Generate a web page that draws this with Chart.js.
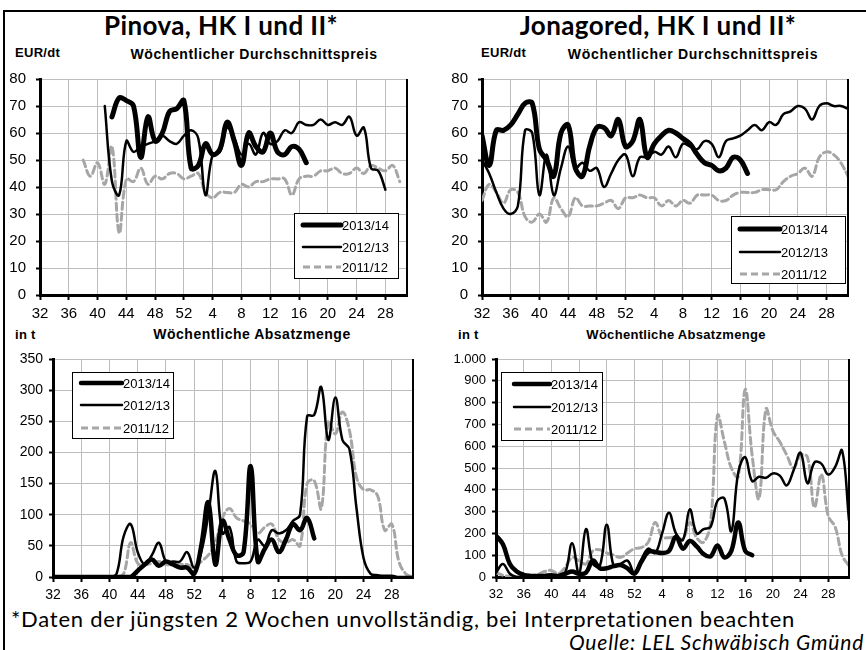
<!DOCTYPE html>
<html>
<head>
<meta charset="utf-8">
<script src="https://cdn.jsdelivr.net/npm/chart.js@4.4.1/dist/chart.umd.min.js"></script>
<style>
  body { margin: 0; width: 866px; height: 650px; overflow: hidden; background: #fff; position: relative;
         font-family: "Liberation Sans", Arial, sans-serif; color: #000; }
  canvas { position: absolute; left: 0; top: 0; }
  .frame { position: absolute; left: 3px; top: 10px; width: 900px; height: 700px; border: 2px solid #000; }
  .t { position: absolute; white-space: nowrap; line-height: 1; }
  .title { font-family: Lato, "Noto Sans", sans-serif; font-weight: bold; font-size: 26px; text-align: center; letter-spacing: 0.4px; }
  .unit, .sub { font-weight: bold; font-size: 13px; }
  .unit { letter-spacing: 0.3px; }
  .sub { text-align: center; }
  .foot { font-family: Lato, "Noto Sans", sans-serif; font-size: 22px; letter-spacing: 0.75px; }
</style>
</head>
<body>
<div class="frame"></div>

<div class="t title" style="left:0;width:442px;top:12px">Pinova, HK I und II*</div>
<div class="t title" style="left:437px;width:442px;top:12px">Jonagored, HK I und II*</div>
<div class="t unit" style="left:15px;top:46px">EUR/dt</div>
<div class="t unit" style="left:481px;top:46px">EUR/dt</div>
<div class="t sub" style="left:54px;width:400px;top:47px;font-size:14px;letter-spacing:0.6px">Wöchentlicher Durchschnittspreis</div>
<div class="t sub" style="left:493px;width:400px;top:47px;font-size:14px;letter-spacing:0.7px">Wöchentlicher Durchschnittspreis</div>
<div class="t unit" style="left:15px;top:328px">in t</div>
<div class="t unit" style="left:458px;top:328px">in t</div>
<div class="t sub" style="left:52px;width:400px;top:327px;font-size:14px;letter-spacing:0.5px">Wöchentliche Absatzmenge</div>
<div class="t sub" style="left:476px;width:400px;top:328px;letter-spacing:0.3px">Wöchentliche Absatzmenge</div>
<div class="t foot" style="left:11px;top:608px">*Daten der jüngsten 2 Wochen unvollständig, bei Interpretationen beachten</div>
<div class="t foot" style="left:569px;top:631px;font-style:italic;font-size:21px;letter-spacing:0.8px">Quelle: LEL Schwäbisch Gmünd</div>

<canvas id="c1" width="866" height="650"></canvas>
<canvas id="c2" width="866" height="650"></canvas>
<canvas id="c3" width="866" height="650"></canvas>
<canvas id="c4" width="866" height="650"></canvas>

<script>
// calendar weeks of the marketing season, week 32 to week 31
const weeks = [32, 33, 34, 35, 36, 37, 38, 39, 40, 41, 42, 43, 44, 45, 46, 47, 48, 49, 50, 51, 52,
  1, 2, 3, 4, 5, 6, 7, 8, 9, 10, 11, 12, 13, 14, 15, 16, 17, 18, 19, 20, 21, 22, 23, 24, 25, 26, 27, 28, 29, 30, 31];
const seasons = ['2013/14', '2012/13', '2011/12'];
const _ = null;

// Pinova, price EUR/dt
const pinovaPrice1314 = [_, _, _, _, _, _, _, _, _, _, 66, 73, 72, 70, 51, 66, 57, 60, 68, 69, 72,
  47, 48, 56, 52, 54, 64, 57, 48, 60, 55, 53, 60, 53, 52, 55, 54, 49, _, _, _, _, _, _, _, _, _, _, _, _, _, _];
const pinovaPrice1213 = [_, _, _, _, _, _, _, _, _, 70, 42, 37, 57, 53, 55, 56, 57, 59, 57, 56, 59,
  61, 58, 37, 52, 53, 62, 58, 52, 56, 52, 60, 56, 57, 61, 60, 64, 63, 63, 65, 63, 64, 63, 66, 59, 62, 47, 46, 39, _, _, _];
const pinovaPrice1112 = [_, _, _, _, _, _, 50, 44, 49, 41, 55, 23, 43, 42, 47, 41, 44, 43, 45, 45, 43,
  44, 45, 38, 36, 38, 38, 38, 41, 40, 42, 42, 43, 43, 43, 37, 43, 44, 44, 46, 46, 47, 45, 45, 47, 45, 48, 47, 46, 48, 42, _];

// Jonagored, price EUR/dt
const jonaPrice1314 = [59, 48, 61, 61, 63, 67, 71, 71, 54, 50, 44, 60, 63, 47, 44, 55, 62, 62, 59, 65, 55,
  57, 65, 51, 56, 59, 61, 60, 58, 56, 52, 49, 48, 46, 47, 51, 50, 45, _, _, _, _, _, _, _, _, _, _, _, _, _, _];
const jonaPrice1213 = [50, 45, 38, 32, 30, 33, 61, 60, 37, 52, 37, 47, 55, 47, 49, 46, 47, 40, 45, 50, 52,
  44, 51, 51, 53, 52, 55, 51, 56, 55, 54, 57, 56, 51, 57, 58, 59, 61, 63, 61, 64, 63, 67, 68, 70, 69, 65, 70, 71, 70, 70, 69];
const jonaPrice1112 = [35, 41, 38, 34, 39, 38, 29, 27, 30, 27, 36, 32, 29, 36, 33, 33, 33, 34, 35, 32, 36,
  36, 37, 36, 36, 33, 35, 33, 35, 34, 37, 37, 37, 35, 35, 37, 38, 38, 38, 39, 39, 39, 42, 44, 45, 47, 44, 51, 53, 52, 49, 44];

// Pinova, sales in t
const pinovaQty1314 = [0, 0, 0, 0, 0, 0, 0, 0, 0, 0, 0, 0, 10, 20, 28, 18, 25, 20, 15, 15, 5,
  50, 120, 20, 90, 60, 35, 40, 178, 25, 45, 60, 40, 60, 85, 75, 95, 62, _, _, _, _, _, _, _, _, _, _, _, _, _, _];
const pinovaQty1213 = [0, 0, 0, 0, 0, 0, 0, 0, 0, 5, 65, 85, 40, 20, 35, 55, 25, 25, 25, 40, 15,
  40, 100, 170, 70, 80, 25, 22, 25, 60, 50, 75, 70, 75, 90, 100, 258, 260, 305, 220, 288, 220, 205, 110, 30, 5, 3, 2, 2, 0, 0, 0];
const pinovaQty1112 = [0, 0, 0, 0, 0, 0, 0, 0, 0, 0, 5, 55, 22, 20, 22, 25, 20, 20, 20, 20, 15,
  25, 35, 55, 95, 110, 95, 90, 85, 70, 80, 85, 60, 55, 60, 50, 150, 155, 110, 250, 230, 265, 235, 160, 140, 140, 130, 75, 85, 25, 5, 0];

// Jonagored, sales in t
const jonaQty1314 = [190, 150, 60, 25, 10, 5, 5, 5, 8, 5, 15, 25, 15, 20, 75, 40, 40, 50, 55, 40, 15,
  70, 115, 115, 110, 120, 185, 130, 165, 140, 105, 95, 145, 90, 120, 250, 120, 100, _, _, _, _, _, _, _, _, _, _, _, _, _, _];
const jonaQty1213 = [20, 60, 15, 0, 0, 0, 0, 0, 0, 3, 20, 155, 15, 220, 60, 50, 240, 50, 60, 75, 20,
  80, 130, 110, 200, 295, 200, 170, 310, 200, 220, 230, 350, 360, 210, 480, 550, 440, 460, 455, 475, 465, 420, 490, 570, 430, 525, 520, 470, 505, 580, 260];
const jonaQty1112 = [20, 8, 2, 0, 0, 3, 12, 25, 30, 15, 45, 90, 75, 60, 120, 125, 110, 100, 90, 110, 130,
  135, 160, 250, 185, 180, 185, 175, 250, 180, 160, 250, 740, 620, 500, 460, 860, 560, 360, 770, 670, 620, 560, 500, 560, 550, 320, 470, 280, 230, 100, 50];

const X_H = 30;

const boxLegend = {
  id: 'boxLegend',
  afterDatasetsDraw(chart, args, o) {
    const ctx = chart.ctx;
    ctx.save();
    ctx.fillStyle = '#fff';
    ctx.strokeStyle = '#000';
    ctx.lineWidth = 1;
    ctx.fillRect(o.x, o.y, o.w, o.h);
    ctx.strokeRect(o.x + 0.5, o.y + 0.5, o.w, o.h);
    chart.data.datasets.forEach((ds, i) => {
      const y = o.rows[i];
      ctx.beginPath();
      ctx.lineWidth = ds.borderWidth;
      ctx.strokeStyle = ds.borderColor;
      ctx.setLineDash(ds.borderDash || []);
      ctx.lineCap = ds.borderDash ? 'butt' : 'round';
      ctx.moveTo(o.x1, y);
      ctx.lineTo(o.x2, y);
      ctx.stroke();
      ctx.setLineDash([]);
      ctx.fillStyle = '#000';
      ctx.font = o.font;
      ctx.textBaseline = 'middle';
      ctx.fillText(ds.label, o.x2 + 1, y + 1);
    });
    ctx.restore();
  }
};

const rightBorder = {
  id: 'rightBorder',
  afterDraw(chart) {
    const a = chart.chartArea, ctx = chart.ctx;
    ctx.save();
    ctx.strokeStyle = '#000';
    ctx.lineWidth = 2;
    ctx.beginPath();
    ctx.moveTo(a.right, a.top);
    ctx.lineTo(a.right, a.bottom);
    ctx.stroke();
    ctx.restore();
  }
};

function pts(vals) {
  return vals.map((v, i) => ({ x: i, y: v }));
}

function makeChart(id, area, vals, yMax, yStep, fmt, fontSize, yPad, widths, legend) {
  const yW = Math.min(50, area.l - 2);
  const styles = [
    { borderColor: '#000', borderWidth: widths[0] },
    { borderColor: '#000', borderWidth: widths[1] },
    { borderColor: '#a6a6a6', borderWidth: widths[2], borderDash: [7, 4] }
  ];
  return new Chart(document.getElementById(id), {
    type: 'line',
    data: {
      datasets: vals.map((v, i) => Object.assign({
        label: seasons[i],
        data: pts(v),
        pointRadius: 0,
        tension: 0.4,
        borderCapStyle: 'round',
        borderJoinStyle: 'round',
        spanGaps: false
      }, styles[i]))
    },
    options: {
      responsive: false,
      animation: false,
      events: [],
      layout: {
        autoPadding: false,
        padding: { left: area.l - yW, top: area.t, right: 866 - area.r, bottom: 650 - area.b - X_H }
      },
      plugins: { legend: { display: false }, tooltip: { enabled: false }, boxLegend: legend },
      scales: {
        x: {
          type: 'linear', min: 0, max: 51,
          afterFit(s) { s.height = X_H; },
          grid: { color: '#bdbdbd', lineWidth: 1, tickColor: '#000', tickLength: 5, tickWidth: 2 },
          border: { color: '#000', width: 3 },
          ticks: {
            stepSize: 4, includeBounds: false, autoSkip: false, maxRotation: 0, padding: 5,
            color: '#000', font: { family: 'Liberation Sans', size: fontSize },
            callback: v => weeks[v]
          }
        },
        y: {
          min: 0, max: yMax,
          afterFit(s) { s.width = yW; },
          grid: { color: '#bdbdbd', lineWidth: 1, tickColor: '#000', tickLength: 4, tickWidth: 2 },
          border: { color: '#000', width: 3 },
          ticks: {
            stepSize: yStep, padding: yPad, color: '#000',
            font: { family: 'Liberation Sans', size: fontSize },
            callback: fmt
          }
        }
      }
    },
    plugins: [boxLegend, rightBorder]
  });
}

const plain = v => String(v);
const dots = v => v >= 1000 ? Math.floor(v / 1000) + '.' + String(v % 1000).padStart(3, '0') : String(v);
const legendFont = '13px "Liberation Sans"';

makeChart('c1', { l: 40, t: 79, r: 407, b: 295 }, [pinovaPrice1314, pinovaPrice1213, pinovaPrice1112],
  80, 10, plain, 15, 10, [5, 2.5, 3],
  { x: 294, y: 213, w: 104, h: 65, x1: 303, x2: 341, rows: [225, 247, 267], font: legendFont });

makeChart('c2', { l: 482, t: 79, r: 848, b: 295 }, [jonaPrice1314, jonaPrice1213, jonaPrice1112],
  80, 10, plain, 15, 10, [5, 2.5, 3],
  { x: 731, y: 216, w: 114, h: 67, x1: 740, x2: 780, rows: [229, 252, 274], font: legendFont });

makeChart('c3', { l: 53, t: 359, r: 413, b: 577 }, [pinovaQty1314, pinovaQty1213, pinovaQty1112],
  350, 50, plain, 14, 6, [4.5, 2.5, 3],
  { x: 72, y: 372, w: 101, h: 66, x1: 81, x2: 122, rows: [383, 405, 428], font: legendFont });

makeChart('c4', { l: 496, t: 359, r: 849, b: 577 }, [jonaQty1314, jonaQty1213, jonaQty1112],
  1000, 100, dots, 13, 6, [4.5, 2.5, 3],
  { x: 501, y: 372, w: 101, h: 68, x1: 514, x2: 550, rows: [384, 407, 429], font: legendFont });
</script>
</body>
</html>
